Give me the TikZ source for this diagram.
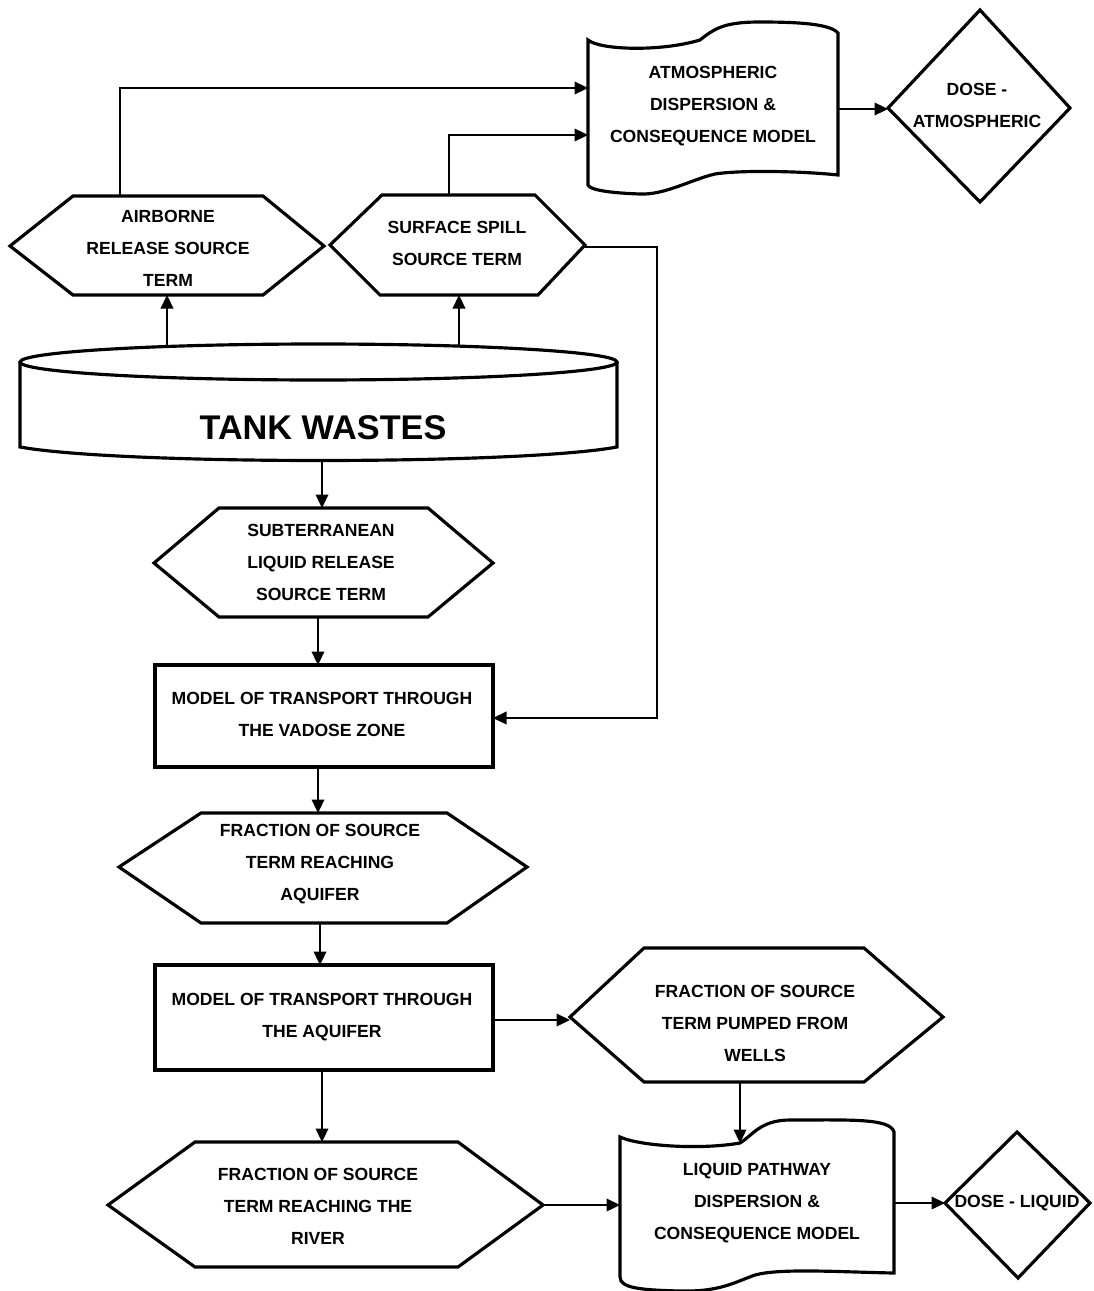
\documentclass[tikz,border=0pt]{standalone}
\usepackage{fontspec}
\setmainfont{Liberation Sans}
\usetikzlibrary{arrows.meta}
\newcommand\mylabfont{\fontsize{10pt}{18.2pt}\selectfont\bfseries}
\begin{document}
\begin{tikzpicture}[x=0.02cm,y=-0.02cm,
  shp/.style={line width=1.8pt,line join=miter},
  con/.style={line width=1.3pt},
  arr/.style={con,-{Triangle[length=0.27cm,width=0.25cm]}},
  lbl/.style={font=\mylabfont,align=center,inner sep=0pt}]
\fill[white] (0,0) rectangle (1094,1291);
\useasboundingbox (0,0) rectangle (1094,1291);

% ---------- shapes ----------
% airborne hexagon
\draw[shp] (10,246) -- (73,196) -- (263,196) -- (324,246) -- (263,295) -- (73,295) -- cycle;
% surface spill hexagon
\draw[shp] (330,245) -- (382,195) -- (535,195) -- (585,245) -- (538,295) -- (380,295) -- cycle;
% atmospheric document
\draw[shp] (588,40) .. controls (600,50) and (660,52) .. (700,40)
  .. controls (715,28) and (725,22) .. (760,22)
  .. controls (800,22) and (830,24) .. (838,33)
  -- (838,175)
  .. controls (800,171) and (740,170) .. (715,174)
  .. controls (690,180) and (665,195) .. (640,194)
  .. controls (610,193) and (590,190) .. (588,185) -- cycle;
% dose atmospheric diamond
\draw[shp] (980,10) -- (1070,108) -- (980,202) -- (888,108) -- cycle;
% tank
\draw[shp] (318.5,362) ellipse [x radius=5.97cm, y radius=0.36cm];
\draw[shp] (20,362) -- (20,447) .. controls (120,465) and (520,465) .. (617,447) -- (617,362);
% subterranean hexagon
\draw[shp] (154,563) -- (219,508) -- (428,508) -- (493,563) -- (428,617) -- (219,617) -- cycle;
% vadose box
\draw[shp] (155,665) rectangle (493,767);
% aquifer fraction hexagon
\draw[shp] (119,867) -- (201,813) -- (447,813) -- (527,867) -- (447,923) -- (201,923) -- cycle;
% aquifer box
\draw[shp] (155,965) rectangle (493,1070);
% wells hexagon
\draw[shp] (570,1017) -- (644,948) -- (864,948) -- (943,1017) -- (864,1082) -- (644,1082) -- cycle;
% liquid document
\draw[shp] (620,1137) .. controls (640,1146) and (700,1150) .. (740,1143)
  .. controls (752,1136) and (760,1120) .. (790,1120)
  .. controls (850,1120) and (890,1118) .. (894,1132)
  -- (894,1273)
  .. controls (840,1272) and (780,1268) .. (755,1275)
  .. controls (735,1282) and (720,1292) .. (680,1291)
  .. controls (640,1290) and (620,1288) .. (620,1277) -- cycle;
% dose liquid diamond
\draw[shp] (1017,1132) -- (1090,1203) -- (1018,1278) -- (945,1203) -- cycle;
% river hexagon
\draw[shp] (108,1205) -- (195,1142) -- (458,1142) -- (543,1205) -- (458,1267) -- (195,1267) -- cycle;

% ---------- labels ----------
\node[lbl] (air) at (168,248) {AIRBORNE\\RELEASE SOURCE\\TERM};
\node[lbl] (spill) at (457,243) {SURFACE SPILL\\SOURCE TERM};
\node[lbl] (atm) at (713,106) {ATMOSPHERIC\\DISPERSION \&\\CONSEQUENCE MODEL};
\node[lbl] (doseA) at (977,105) {DOSE -\\ATMOSPHERIC};
\node[inner sep=0pt,font=\fontsize{19.5pt}{22pt}\selectfont\bfseries] (tank) at (323,428) {TANK WASTES};
\node[lbl] (sub) at (321,562) {SUBTERRANEAN\\LIQUID RELEASE\\SOURCE TERM};
\node[lbl] (vad) at (322,714) {MODEL OF TRANSPORT THROUGH\\THE VADOSE ZONE};
\node[lbl] (aqf) at (320,864) {FRACTION OF SOURCE\\TERM REACHING\\AQUIFER};
\node[lbl] (aqm) at (322,1017) {MODEL OF TRANSPORT THROUGH\\THE AQUIFER};
\node[lbl] (wells) at (755,1023) {FRACTION OF SOURCE\\TERM PUMPED FROM\\WELLS};
\node[lbl] (liq) at (757,1203) {LIQUID PATHWAY\\DISPERSION \&\\CONSEQUENCE MODEL};
\node[lbl] (doseL) at (1017,1203) {DOSE - LIQUID};
\node[lbl] (river) at (318,1206) {FRACTION OF SOURCE\\TERM REACHING THE\\RIVER};

% ---------- connector end points ----------
\coordinate (airTop) at (120,196);
\coordinate (atmIn1) at (588,88);
\coordinate (spillTop) at (449,195);
\coordinate (atmIn2) at (588,135);
\coordinate (atmOut) at (838,109);
\coordinate (doseAW) at (888,109);
\coordinate (tankTopA) at (167,346);
\coordinate (airBot) at (167,295);
\coordinate (tankTopS) at (459,346);
\coordinate (spillBot) at (459,295);
\coordinate (spillR) at (585,247);
\coordinate (bendR) at (657,718);
\coordinate (vadR) at (493,718);
\coordinate (tankBot) at (322,462);
\coordinate (subTop) at (322,508);
\coordinate (subBot) at (318,617);
\coordinate (vadTop) at (318,665);
\coordinate (vadBot) at (318,767);
\coordinate (aqfTop) at (318,813);
\coordinate (aqfBot) at (320,923);
\coordinate (aqmTop) at (320,965);
\coordinate (aqmR) at (493,1020);
\coordinate (wellsL) at (570,1020);
\coordinate (wellsBot) at (740,1082);
\coordinate (liqTop) at (740,1143);
\coordinate (aqmBot) at (322,1070);
\coordinate (riverTop) at (322,1142);
\coordinate (riverR) at (543,1205);
\coordinate (liqL) at (620,1205);
\coordinate (liqR) at (894,1203);
\coordinate (doseLW) at (945,1203);

% ---------- connectors ----------
\draw[arr] (airTop) |- (atmIn1);
\draw[arr] (spillTop) |- (atmIn2);
\draw[arr] (atmOut) -- (doseAW);
\draw[arr] (tankTopA) -- (airBot);
\draw[arr] (tankTopS) -- (spillBot);
\draw[arr] (spillR) -| (bendR) -- (vadR);
\draw[arr] (tankBot) -- (subTop);
\draw[arr] (subBot) -- (vadTop);
\draw[arr] (vadBot) -- (aqfTop);
\draw[arr] (aqfBot) -- (aqmTop);
\draw[arr] (aqmR) -- (wellsL);
\draw[arr] (wellsBot) -- (liqTop);
\draw[arr] (aqmBot) -- (riverTop);
\draw[arr] (riverR) -- (liqL);
\draw[arr] (liqR) -- (doseLW);
\end{tikzpicture}
\end{document}
